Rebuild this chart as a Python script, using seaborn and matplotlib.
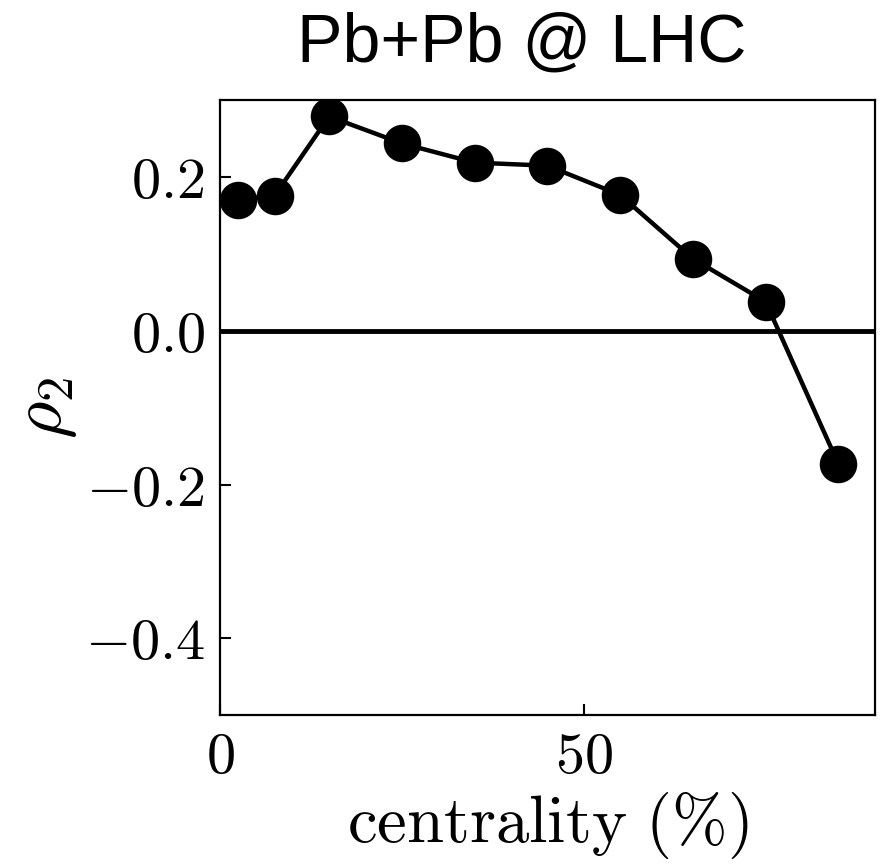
import matplotlib
matplotlib.use("Agg")
import matplotlib.pyplot as plt
import seaborn as sns
import pandas as pd

centrality = [2.5, 7.5, 15, 25, 35, 45, 55, 65, 75, 85]
rho2 = [0.171, 0.176, 0.279, 0.244, 0.219, 0.215, 0.177, 0.094, 0.038, -0.173]
xticks = [0, 50]
yticks = [-0.4, -0.2, 0.0, 0.2]

sns.set_style("ticks")
plt.rcParams["font.family"] = ["Liberation Sans", "DejaVu Sans"]
plt.rcParams["mathtext.fontset"] = "cm"
for k in ["text.color", "axes.labelcolor", "xtick.color", "ytick.color", "axes.edgecolor"]:
    plt.rcParams[k] = "black"

df = pd.DataFrame({"centrality": centrality, "rho2": rho2})

fig = plt.figure(figsize=(8.8, 8.65), dpi=100)
ax = fig.add_axes([0.25, 0.173, 0.744, 0.711])
ax.axhline(0, color="black", lw=3.5, zorder=1)
sns.lineplot(data=df, x="centrality", y="rho2", ax=ax, color="black",
             marker="o", markersize=27, lw=3.2, markeredgewidth=0, zorder=3)
ax.set_xlim(0, 90)
ax.set_ylim(-0.5, 0.3)
ax.set_xticks(xticks)
ax.set_xticklabels([f"${t}$" for t in xticks])
ax.set_yticks(yticks)
ax.set_yticklabels([f"${t:.1f}$" for t in yticks])
ax.tick_params(direction="in", length=8, width=1.5, labelsize=42, pad=11)
for s in ax.spines.values():
    s.set_linewidth(1.6)
ax.set_xlabel(r"$\mathrm{centrality\ (\%)}$", fontsize=48, labelpad=4)
ax.set_ylabel(r"$\rho_2$", fontsize=52, labelpad=4)
ax.set_title("Pb+Pb @ LHC", fontsize=49, pad=28, x=0.461)
fig.savefig("out.png", dpi=100)
